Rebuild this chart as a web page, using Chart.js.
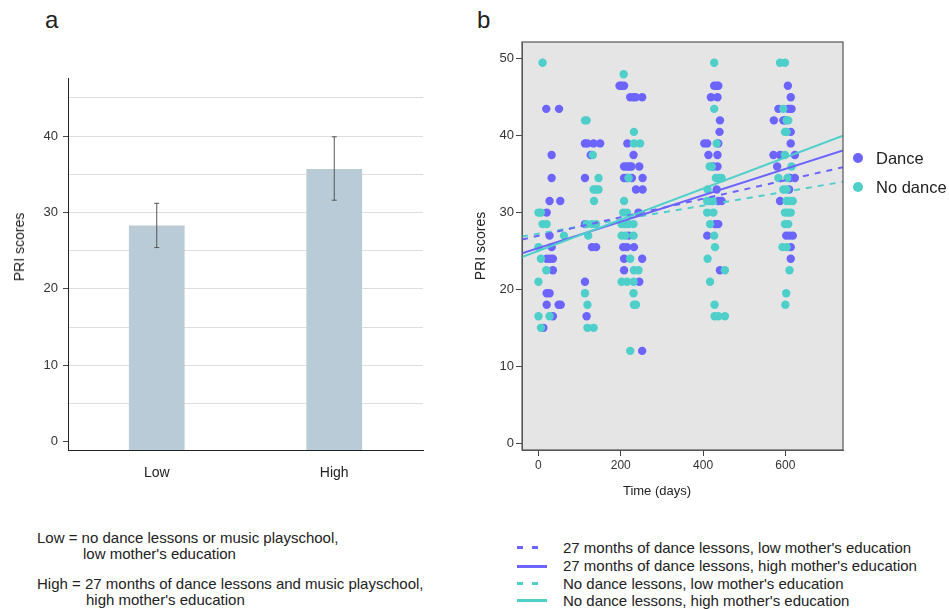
<!DOCTYPE html>
<html>
<head>
<meta charset="utf-8">
<script src="https://cdn.jsdelivr.net/npm/chart.js@4.4.0/dist/chart.umd.min.js"></script>
<style>
body { margin:0; width:949px; height:609px; background:#fff; position:relative; overflow:hidden;
       font-family:"Liberation Sans", Arial, sans-serif; color:#222; }
.abs { position:absolute; white-space:nowrap; }
.panel { font-size:24px; line-height:24px; }
.note { font-size:15px; line-height:16px; }
.key { font-size:16.5px; line-height:20px; }
.dot { position:absolute; width:10px; height:10px; border-radius:50%; }
.seg { position:absolute; height:3px; }
#barTitle { left:19px; top:247px; font-size:14px; transform:translate(-50%,-50%) rotate(-90deg); }
#timeTitle { left:657px; top:483px; font-size:13px; line-height:16px; transform:translateX(-50%); }
</style>
</head>
<body>
<div class="abs panel" style="left:45px;top:8px">a</div>
<div class="abs panel" style="left:477px;top:8px">b</div>

<canvas id="barChart" width="440" height="440" style="position:absolute;left:0;top:60px"></canvas>
<div class="abs" id="barTitle">PRI scores</div>

<canvas id="scatterChart" width="400" height="510" style="position:absolute;left:460px;top:0"></canvas>
<div class="abs" id="timeTitle">Time (days)</div>

<!-- group legend -->
<div class="dot" style="left:853px;top:153px;background:#6b64ff"></div>
<div class="abs key" style="left:876px;top:148px">Dance</div>
<div class="dot" style="left:853px;top:182px;background:#4ecfc9"></div>
<div class="abs key" style="left:876px;top:177px">No dance</div>

<!-- notes under panel a -->
<div class="abs note" style="left:37px;top:530px">Low = no dance lessons or music playschool,</div>
<div class="abs note" style="left:83px;top:546px">low mother's education</div>
<div class="abs note" style="left:37px;top:576px">High = 27 months of dance lessons and music playschool,</div>
<div class="abs note" style="left:86px;top:592px">high mother's education</div>

<!-- fit line legend -->
<div class="seg" style="left:517px;top:546px;width:6px;background:#6b64ff"></div>
<div class="seg" style="left:532px;top:546px;width:6px;background:#6b64ff"></div>
<div class="abs note" style="left:563px;top:540px">27 months of dance lessons, low mother's education</div>
<div class="seg" style="left:517px;top:565px;width:30px;background:#6b64ff"></div>
<div class="abs note" style="left:563px;top:558px">27 months of dance lessons, high mother's education</div>
<div class="seg" style="left:517px;top:582px;width:6px;background:#4ecfc9"></div>
<div class="seg" style="left:532px;top:582px;width:6px;background:#4ecfc9"></div>
<div class="abs note" style="left:563px;top:576px">No dance lessons, low mother's education</div>
<div class="seg" style="left:517px;top:599px;width:30px;background:#4ecfc9"></div>
<div class="abs note" style="left:563px;top:593px">No dance lessons, high mother's education</div>

<script>
// PANEL A DATA
const groups = ["Low", "High"];
const groupMeans = [28.3, 35.7];
const errLow = [25.4, 31.6];
const errHigh = [31.2, 39.9];

// PANEL B DATA (days, PRI score)
const danceDays = [
  197,202,208,427,433,437,606,
  223,231,236,252,419,435,613,
  19,50,583,607,611,615,
  441,572,595,599,
  440,613,
  113,119,134,150,216,403,410,437,613,
  32,127,231,413,435,571,587,623,
  208,215,221,226,245,425,435,580,
  32,113,208,215,227,253,609,611,623,
  237,253,433,609,
  27,53,437,445,587,
  20,243,
  113,429,432,437,
  27,219,410,602,610,618,
  32,130,140,206,215,232,613,
  20,28,35,208,252,613,
  35,208,441,
  113,245,
  20,27,
  20,49,54,
  35,117,
  12,
  252
];
const danceScores = [
  46.5,46.5,46.5,46.5,46.5,46.5,46.5,
  45,45,45,45,45,45,45,
  43.5,43.5,43.5,43.5,43.5,43.5,
  42,42,42,42,
  40.5,40.5,
  39,39,39,39,39,39,39,39,39,
  37.5,37.5,37.5,37.5,37.5,37.5,37.5,37.5,
  36,36,36,36,36,36,36,36,
  34.5,34.5,34.5,34.5,34.5,34.5,34.5,34.5,34.5,
  33,33,33,33,
  31.5,31.5,31.5,31.5,31.5,
  30,30,
  28.5,28.5,28.5,28.5,
  27,27,27,27,27,27,
  25.5,25.5,25.5,25.5,25.5,25.5,25.5,
  24,24,24,24,24,24,
  22.5,22.5,22.5,
  21,21,
  19.5,19.5,
  18,18,18,
  16.5,16.5,
  15,
  12
];
const noDanceDays = [
  10,427,587,599,
  207,
  427,595,
  113,117,603,607,
  232,599,603,
  232,247,433,
  132,599,
  416,421,615,
  146,219,431,439,445,583,605,
  134,140,146,411,595,603,
  135,208,410,417,423,603,611,618,
  0,6,206,215,410,425,599,607,613,
  10,20,117,130,140,202,211,219,231,417,599,607,
  62,121,202,211,231,427,
  0,429,593,603,
  6,223,411,
  19,232,243,453,610,
  0,202,215,231,417,
  113,231,602,
  119,232,237,428,600,
  0,27,428,437,453,
  6,119,134,
  223
];
const noDanceScores = [
  49.5,49.5,49.5,49.5,
  48,
  43.5,43.5,
  42,42,42,42,
  40.5,40.5,40.5,
  39,39,39,
  37.5,37.5,
  36,36,36,
  34.5,34.5,34.5,34.5,34.5,34.5,34.5,
  33,33,33,33,33,33,
  31.5,31.5,31.5,31.5,31.5,31.5,31.5,31.5,
  30,30,30,30,30,30,30,30,30,
  28.5,28.5,28.5,28.5,28.5,28.5,28.5,28.5,28.5,28.5,28.5,28.5,
  27,27,27,27,27,27,
  25.5,25.5,25.5,25.5,
  24,24,24,
  22.5,22.5,22.5,22.5,22.5,
  21,21,21,21,21,
  19.5,19.5,19.5,
  18,18,18,18,18,
  16.5,16.5,16.5,16.5,16.5,
  15,15,15,
  12
];

// fitted lines, value at start and end of fitDays
const fitDays = [-40, 740];
const danceLowFit = [26.5, 35.9];
const danceHighFit = [24.7, 38.1];
const noDanceLowFit = [26.9, 34.0];
const noDanceHighFit = [24.2, 40.0];

const purple = '#6b64ff';
const teal = '#4ecfc9';

Chart.defaults.font.family = '"Liberation Sans", Arial, sans-serif';
Chart.defaults.color = '#333';
Chart.defaults.animation = false;

function pairs(xs, ys) {
  return xs.map((x, i) => ({ x: x, y: ys[i] }));
}

// ERROR BARS
const errorBars = {
  id: 'errorBars',
  afterDatasetsDraw(chart) {
    const ctx = chart.ctx;
    const xs = chart.scales.x, ys = chart.scales.y;
    ctx.save();
    ctx.strokeStyle = '#555';
    ctx.lineWidth = 1;
    groups.forEach(function(g, i) {
      const x = xs.getPixelForValue(i);
      const y1 = ys.getPixelForValue(errLow[i]);
      const y2 = ys.getPixelForValue(errHigh[i]);
      ctx.beginPath();
      ctx.moveTo(x, y1); ctx.lineTo(x, y2);
      ctx.moveTo(x - 2.5, y1); ctx.lineTo(x + 2.5, y1);
      ctx.moveTo(x - 2.5, y2); ctx.lineTo(x + 2.5, y2);
      ctx.stroke();
    });
    ctx.restore();
  }
};

const barMin = -1.1;

new Chart(document.getElementById('barChart'), {
  type: 'bar',
  data: {
    labels: groups,
    datasets: [{
      data: groupMeans,
      base: barMin,
      backgroundColor: '#b9cbd6',
      barPercentage: 0.314,
      categoryPercentage: 1
    }]
  },
  options: {
    responsive: false,
    layout: { padding: { top: 18, right: 17, left: 0, bottom: 0 } },
    plugins: { legend: { display: false }, tooltip: { enabled: false } },
    scales: {
      x: {
        grid: { display: false },
        border: { color: '#222' },
        ticks: { font: { size: 14 }, color: '#222', padding: 7 },
        afterFit: function(s) { s.height = 50; }
      },
      y: {
        min: barMin, max: 47.6,
        afterBuildTicks: function(s) {
          s.ticks = [0, 5, 10, 15, 20, 25, 30, 35, 40, 45].map(v => ({ value: v }));
        },
        ticks: {
          font: { size: 13 }, padding: 5,
          callback: v => (v % 10 === 0 ? v : '')
        },
        grid: {
          color: c => (c.tick && c.tick.value === 0 ? 'rgba(0,0,0,0)' : '#dedede'),
          tickColor: c => (c.tick && c.tick.value % 10 === 0 ? '#444' : 'rgba(0,0,0,0)'),
          tickLength: 5
        },
        border: { color: '#222' },
        afterFit: function(s) { s.width = 68; }
      }
    }
  },
  plugins: [errorBars]
});

// GREY PLOT BOX
const plotBox = {
  id: 'plotBox',
  beforeDraw(chart) {
    const a = chart.chartArea, ctx = chart.ctx;
    ctx.save();
    ctx.fillStyle = '#e5e5e5';
    ctx.fillRect(a.left, a.top, a.right - a.left, a.bottom - a.top);
    ctx.restore();
  },
  afterDraw(chart) {
    const a = chart.chartArea, ctx = chart.ctx;
    ctx.save();
    ctx.strokeStyle = '#555';
    ctx.lineWidth = 1.2;
    ctx.strokeRect(a.left, a.top, a.right - a.left, a.bottom - a.top);
    ctx.restore();
  }
};

function fitLine(vals, color, dashed) {
  return {
    type: 'line',
    data: pairs(fitDays, vals),
    borderColor: color,
    borderWidth: 2,
    borderDash: dashed ? [6, 6] : [],
    pointRadius: 0,
    fill: false,
    order: 1
  };
}

new Chart(document.getElementById('scatterChart'), {
  type: 'scatter',
  data: {
    datasets: [
      fitLine(noDanceHighFit, teal, false),
      fitLine(danceHighFit, purple, false),
      fitLine(danceLowFit, purple, true),
      fitLine(noDanceLowFit, teal, true),
      { data: pairs(noDanceDays, noDanceScores), backgroundColor: teal, borderWidth: 0, pointRadius: 4.2, order: 2 },
      { data: pairs(danceDays, danceScores), backgroundColor: purple, borderWidth: 0, pointRadius: 4.2, order: 3 }
    ]
  },
  options: {
    responsive: false,
    layout: { padding: { top: 42, right: 17, left: 0, bottom: 0 } },
    plugins: { legend: { display: false }, tooltip: { enabled: false } },
    scales: {
      x: {
        type: 'linear', min: -40, max: 740,
        afterBuildTicks: function(s) {
          s.ticks = [0, 200, 400, 600].map(v => ({ value: v }));
        },
        ticks: { font: { size: 12 }, padding: 2 },
        grid: { drawOnChartArea: false, tickLength: 6, tickColor: '#444' },
        border: { color: '#555' },
        afterFit: function(s) { s.height = 60; }
      },
      y: {
        min: -0.9, max: 52.2,
        afterBuildTicks: function(s) {
          s.ticks = [0, 10, 20, 30, 40, 50].map(v => ({ value: v }));
        },
        ticks: { font: { size: 13 }, padding: 2 },
        grid: { drawOnChartArea: false, tickLength: 6, tickColor: '#444' },
        border: { color: '#555' },
        title: { display: true, text: 'PRI scores', font: { size: 14 }, color: '#222', padding: { top: 13, bottom: 0 } },
        afterFit: function(s) { s.width = 62; }
      }
    }
  },
  plugins: [plotBox]
});
</script>
</body>
</html>
